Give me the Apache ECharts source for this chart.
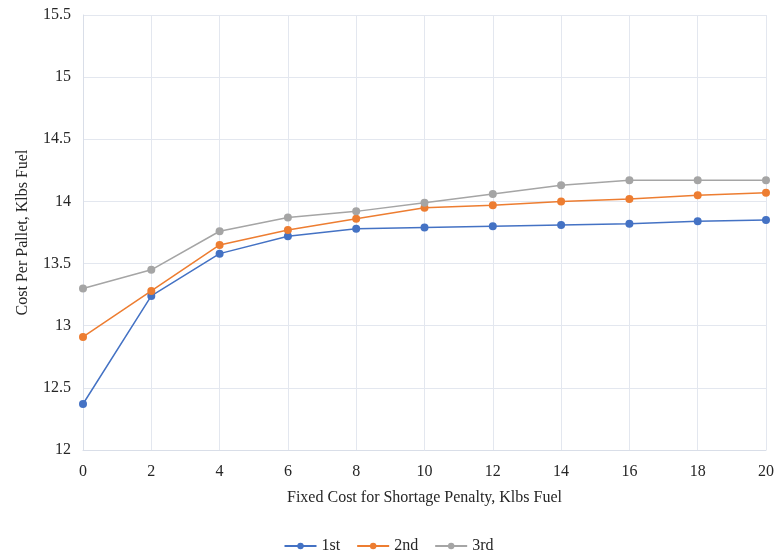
<!DOCTYPE html>
<html><head><meta charset="utf-8">
<script src="https://cdn.jsdelivr.net/npm/echarts@6/dist/echarts.min.js"></script>
<style>html,body{margin:0;padding:0;background:#fff}#c{width:777px;height:560px}</style>
</head><body><div id="c"></div>
<script>
const xValues = [0, 2, 4, 6, 8, 10, 12, 14, 16, 18, 20];
const first = [12.37, 13.24, 13.58, 13.72, 13.78, 13.79, 13.80, 13.81, 13.82, 13.84, 13.85];
const second = [12.91, 13.28, 13.65, 13.77, 13.86, 13.95, 13.97, 14.00, 14.02, 14.05, 14.07];
const third = [13.30, 13.45, 13.76, 13.87, 13.92, 13.99, 14.06, 14.13, 14.17, 14.17, 14.17];
const seriesNames = ['1st', '2nd', '3rd'];
const colors = ['#4472c4', '#ed7d31', '#a5a5a5'];
const font = 'Liberation Serif';
const chart = echarts.init(document.getElementById('c'));
const mk = (name, vals, color) => ({
  name, type: 'line', data: xValues.map((x, i) => [x, vals[i]]),
  symbol: 'circle', symbolSize: 8, lineStyle: {width: 1.5, color},
  itemStyle: {color}, emphasis: {disabled: true}
});
chart.setOption({
  animation: false,
  textStyle: {fontFamily: font},
  grid: {left: 83, right: 11, top: 15, bottom: 110},
  legend: {bottom: 1, left: 'center', itemWidth: 32, itemHeight: 8, itemGap: 16,
    textStyle: {fontFamily: font, fontSize: 16, color: '#262626'},
    data: seriesNames},
  xAxis: {type: 'value', min: 0, max: 20, interval: 2,
    name: 'Fixed Cost for Shortage Penalty, Klbs Fuel', nameLocation: 'middle', nameGap: 40,
    nameTextStyle: {fontFamily: font, fontSize: 16, color: '#262626'},
    axisLine: {lineStyle: {color: '#d9dee8'}}, axisTick: {show: false},
    axisLabel: {fontFamily: font, fontSize: 16, color: '#262626', margin: 14},
    splitLine: {show: true, lineStyle: {color: '#e3e7ef'}}},
  yAxis: {type: 'value', min: 12, max: 15.5, interval: 0.5,
    name: 'Cost Per Pallet, Klbs Fuel', nameLocation: 'middle', nameGap: 52,
    nameTextStyle: {fontFamily: font, fontSize: 16, color: '#262626'},
    axisLine: {show: true, lineStyle: {color: '#d9dee8'}}, axisTick: {show: false},
    axisLabel: {fontFamily: font, fontSize: 16, color: '#262626', margin: 12},
    splitLine: {show: true, lineStyle: {color: '#e3e7ef'}}},
  series: [mk(seriesNames[0], first, colors[0]), mk(seriesNames[1], second, colors[1]), mk(seriesNames[2], third, colors[2])]
});
</script></body></html>
